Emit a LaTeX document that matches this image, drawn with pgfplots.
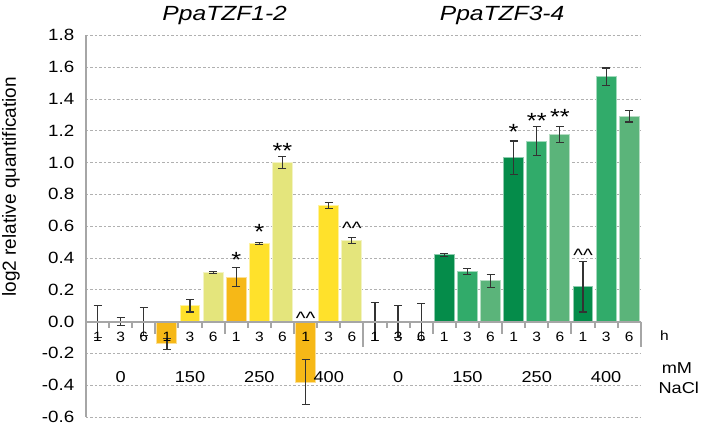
\documentclass[border=0pt]{standalone}
\usepackage{pgfplots}
\pgfplotsset{compat=1.18}
\usepackage{fontspec}
\setmainfont{Liberation Sans}[FakeStretch=1.15]
\newfontfamily\labfont{Liberation Sans}
\newfontfamily\titlefont{Liberation Sans Italic}[FakeStretch=1.2]
\definecolor{yA}{HTML}{F6B817}
\definecolor{yB}{HTML}{FFE12B}
\definecolor{yC}{HTML}{E4E57C}
\definecolor{gA}{HTML}{058C4A}
\definecolor{gB}{HTML}{31AB6A}
\definecolor{gC}{HTML}{5BB47A}
\definecolor{axgrey}{HTML}{A6A6A6}
\definecolor{gridgrey}{HTML}{B0B0B0}
\begin{document}
\begin{tikzpicture}
\path[use as bounding box] (-86bp,-10bp) rectangle (615bp,417bp);
\begin{axis}[
  at={(0,0)}, anchor=south west,
  scale only axis, width=554.8bp, height=381.7bp,
  xmin=-0.5, xmax=23.5, ymin=-0.6, ymax=1.8,
  axis x line=none,
  axis y line*=left,
  y axis line style={axgrey, line width=2bp},
  ytick={-0.6,-0.4,-0.2,0,0.2,0.4,0.6,0.8,1,1.2,1.4,1.6,1.8},
  ytick style={draw=none},
  xtick=\empty,
  /pgf/number format/fixed, /pgf/number format/fixed zerofill,
  /pgf/number format/precision=1, /pgf/number format/assume math mode=true,
  yticklabel style={font=\fontsize{16.3bp}{18bp}\selectfont, anchor=east, inner sep=0pt, xshift=-11.5bp},
  ymajorgrids,
  grid style={gridgrey, line width=0.8bp, dash pattern=on 2.5bp off 2bp},
  ybar, bar shift=0pt, bar width=0.86,
  error bars/y dir=both, error bars/y explicit,
  error bars/error bar style={line width=1.2bp, black!80},
  error bars/error mark options={rotate=90, mark size=4bp, line width=1.2bp, black!80},
  clip=false,
]
\addplot[fill=yA, draw=yA!45!white, line width=1bp] coordinates {(0,0)+-(0,0.10) (3,-0.14)+-(0,0.035) (6,0.28)+-(0,0.06) (9,-0.38)+-(0,0.14)};
\addplot[fill=yB, draw=yB!45!white, line width=1bp] coordinates {(1,0)+-(0,0.025) (4,0.10)+-(0,0.04) (7,0.49)+-(0,0.006) (10,0.73)+-(0,0.02)};
\addplot[fill=yC, draw=yC!45!white, line width=1bp] coordinates {(2,0)+-(0,0.09) (5,0.31)+-(0,0.007) (8,1.00)+-(0,0.04) (11,0.51)+-(0,0.02)};
\addplot[fill=gA, draw=gA!45!white, line width=1bp] coordinates {(12,0)+-(0,0.12) (15,0.42)+-(0,0.01) (18,1.03)+-(0,0.105) (21,0.22)+-(0,0.16)};
\addplot[fill=gB, draw=gB!45!white, line width=1bp] coordinates {(13,0)+-(0,0.10) (16,0.315)+-(0,0.02) (19,1.135)+-(0,0.09) (22,1.54)+-(0,0.055)};
\addplot[fill=gC, draw=gC!45!white, line width=1bp] coordinates {(14,0)+-(0,0.115) (17,0.256)+-(0,0.04) (20,1.175)+-(0,0.05) (23,1.29)+-(0,0.035)};
% x axis line and ticks
\draw[axgrey, line width=2bp] (axis cs:-0.5,0) -- (axis cs:23.5,0);
\pgfplotsinvokeforeach{0.5,1.5,3.5,4.5,6.5,7.5,9.5,10.5,12.5,13.5,15.5,16.5,18.5,19.5,21.5,22.5}{
  \draw[axgrey, line width=2bp] (axis cs:#1,0) -- ++(0pt,-6bp);}
\pgfplotsinvokeforeach{2.5,5.5,8.5,14.5,17.5,20.5}{
  \draw[axgrey, line width=2bp] (axis cs:#1,0) -- ++(0pt,-12bp);}
\pgfplotsinvokeforeach{11.5,23.5}{
  \draw[axgrey, line width=2bp] (axis cs:#1,0) -- ++(0pt,-25bp);}
% hour labels
\pgfplotsinvokeforeach{0,3,6,9,12,15,18,21}{
  \node[anchor=base, inner sep=0pt, font=\fontsize{13.5bp}{15bp}\selectfont] at (axis cs:#1,-0.126) {1};}
\pgfplotsinvokeforeach{1,4,7,10,13,16,19,22}{
  \node[anchor=base, inner sep=0pt, font=\fontsize{13.5bp}{15bp}\selectfont] at (axis cs:#1,-0.126) {3};}
\pgfplotsinvokeforeach{2,5,8,11,14,17,20,23}{
  \node[anchor=base, inner sep=0pt, font=\fontsize{13.5bp}{15bp}\selectfont] at (axis cs:#1,-0.126) {6};}
\node[anchor=base west, inner sep=0pt, font=\fontsize{13.5bp}{15bp}\selectfont] at (axis cs:24.33,-0.12) {h};
% concentration labels
\pgfplotsinvokeforeach{1,13}{
  \node[anchor=base, inner sep=0pt, font=\fontsize{15.8bp}{18bp}\selectfont] at (axis cs:#1,-0.384) {0};}
\pgfplotsinvokeforeach{4,16}{
  \node[anchor=base, inner sep=0pt, font=\fontsize{15.8bp}{18bp}\selectfont] at (axis cs:#1,-0.384) {150};}
\pgfplotsinvokeforeach{7,19}{
  \node[anchor=base, inner sep=0pt, font=\fontsize{15.8bp}{18bp}\selectfont] at (axis cs:#1,-0.384) {250};}
\pgfplotsinvokeforeach{10,22}{
  \node[anchor=base, inner sep=0pt, font=\fontsize{15.8bp}{18bp}\selectfont] at (axis cs:#1,-0.384) {400};}
\node[anchor=base west, inner sep=0pt, font=\fontsize{15.8bp}{18bp}\selectfont] at (axis cs:24.40,-0.325) {mM};
\node[anchor=base west, inner sep=0pt, font=\fontsize{15.8bp}{18bp}\selectfont] at (axis cs:24.26,-0.454) {NaCl};
% significance marks
\node[anchor=base, inner sep=0pt, font=\fontsize{22bp}{24bp}\selectfont] at (axis cs:6,0.343) {*};
\node[anchor=base, inner sep=0pt, font=\fontsize{22bp}{24bp}\selectfont] at (axis cs:7,0.519) {*};
\node[anchor=base, inner sep=0pt, font=\fontsize{22bp}{24bp}\selectfont] at (axis cs:8,1.025) {**};
\node[anchor=base, inner sep=0pt, font=\fontsize{18bp}{20bp}\selectfont] at (axis cs:9,-0.021) {\textasciicircum\textasciicircum};
\node[anchor=base, inner sep=0pt, font=\fontsize{18bp}{20bp}\selectfont] at (axis cs:11,0.546) {\textasciicircum\textasciicircum};
\node[anchor=base, inner sep=0pt, font=\fontsize{22bp}{24bp}\selectfont] at (axis cs:18,1.142) {*};
\node[anchor=base, inner sep=0pt, font=\fontsize{22bp}{24bp}\selectfont] at (axis cs:19,1.211) {**};
\node[anchor=base, inner sep=0pt, font=\fontsize{22bp}{24bp}\selectfont] at (axis cs:20,1.236) {**};
\node[anchor=base, inner sep=0pt, font=\fontsize{18bp}{20bp}\selectfont] at (axis cs:21,0.377) {\textasciicircum\textasciicircum};
% titles
\node[anchor=base, inner sep=0pt, font=\titlefont\fontsize{20.5bp}{24bp}\selectfont] at (axis cs:5.5,1.894) {PpaTZF1-2};
\node[anchor=base, inner sep=0pt, font=\titlefont\fontsize{20.5bp}{24bp}\selectfont] at (axis cs:17.5,1.894) {PpaTZF3-4};
% y label
\node[rotate=90, anchor=base, inner sep=0pt, font=\labfont\fontsize{19bp}{22bp}\selectfont] at (axis cs:-3.535,0.848) {log2 relative quantification};
\end{axis}
\end{tikzpicture}
\end{document}
